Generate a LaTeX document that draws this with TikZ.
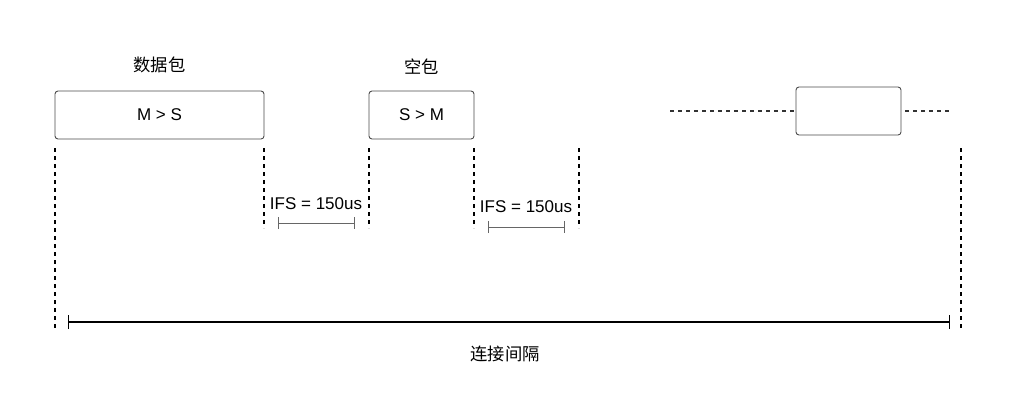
\documentclass[tikz,border=0pt]{standalone}
\usepackage{fontspec}
\setmainfont{Liberation Sans}
\newfontfamily\cjk{Noto Sans CJK SC}
\usetikzlibrary{arrows.meta}
\begin{document}
\begin{tikzpicture}[x=1pt,y=-1pt,
  pkt/.style={draw=black!70,rounded corners=3pt,line width=0.9pt,fill=white,inner sep=0pt},
  lbl/.style={font=\fontsize{17}{19}\selectfont,inner sep=0pt},
  clbl/.style={font=\cjk\fontsize{17.3}{19}\selectfont,inner sep=0pt},
  vdash/.style={line width=1.2pt,dash pattern=on 4pt off 4pt},
  hdash/.style={line width=1.2pt,dash pattern=on 4pt off 4pt,black!80},
  ifsbar/.style={line width=1pt,black!60,{Bar[width=12pt]}-{Bar[width=12pt]}},
  connbar/.style={line width=2pt,black,{Bar[width=14pt,line width=1.3pt]}-{Bar[width=14pt,line width=1.3pt]}}]
\useasboundingbox (0,0) rectangle (1016,418);
% packets
\node[pkt,minimum width=209pt,minimum height=48pt] (p1) at (159.5,115) {};
\node[lbl] (t1) at (p1.center) {M > S};
\node[clbl] (h1) at (159.5,65) {数据包};
\node[pkt,minimum width=105pt,minimum height=48pt] (p2) at (421.5,115) {};
\node[lbl] (t2) at (p2.center) {S > M};
\node[clbl] (h2) at (421.5,67) {空包};
\node[pkt,minimum width=105pt,minimum height=48pt] (p3) at (848.5,111) {};
% dashed continuation
\coordinate (dl) at (670,111);
\coordinate (dr) at (950,111);
\draw[hdash] (dl) -- (p3.west);
\draw[hdash] (p3.east) ++(4,0) -- (dr);
% vertical dashed lines
\coordinate (v1a) at (55,148);  \coordinate (v1b) at (55,330);
\coordinate (v2a) at (264,148); \coordinate (v2b) at (264,228);
\coordinate (v3a) at (369,148); \coordinate (v3b) at (369,228);
\coordinate (v4a) at (474,148); \coordinate (v4b) at (474,228);
\coordinate (v5a) at (579,148); \coordinate (v5b) at (579,228);
\coordinate (v6a) at (961,148); \coordinate (v6b) at (961,330);
\foreach \i in {1,...,6} \draw[vdash] (v\i a) -- (v\i b);
% IFS labels
\node[lbl] (ifs1) at (316,204) {IFS = 150us};
\node[lbl] (ifs2) at (526,207) {IFS = 150us};
\coordinate (b1a) at (278,223); \coordinate (b1b) at (355,223);
\coordinate (b2a) at (488,227); \coordinate (b2b) at (565,227);
\draw[ifsbar] (b1a) -- (b1b);
\draw[ifsbar] (b2a) -- (b2b);
% connection interval
\coordinate (ca) at (68,322); \coordinate (cb) at (950,322);
\draw[connbar] (ca) -- (cb);
\node[clbl] (conn) at (505,354) {连接间隔};
\end{tikzpicture}
\end{document}
